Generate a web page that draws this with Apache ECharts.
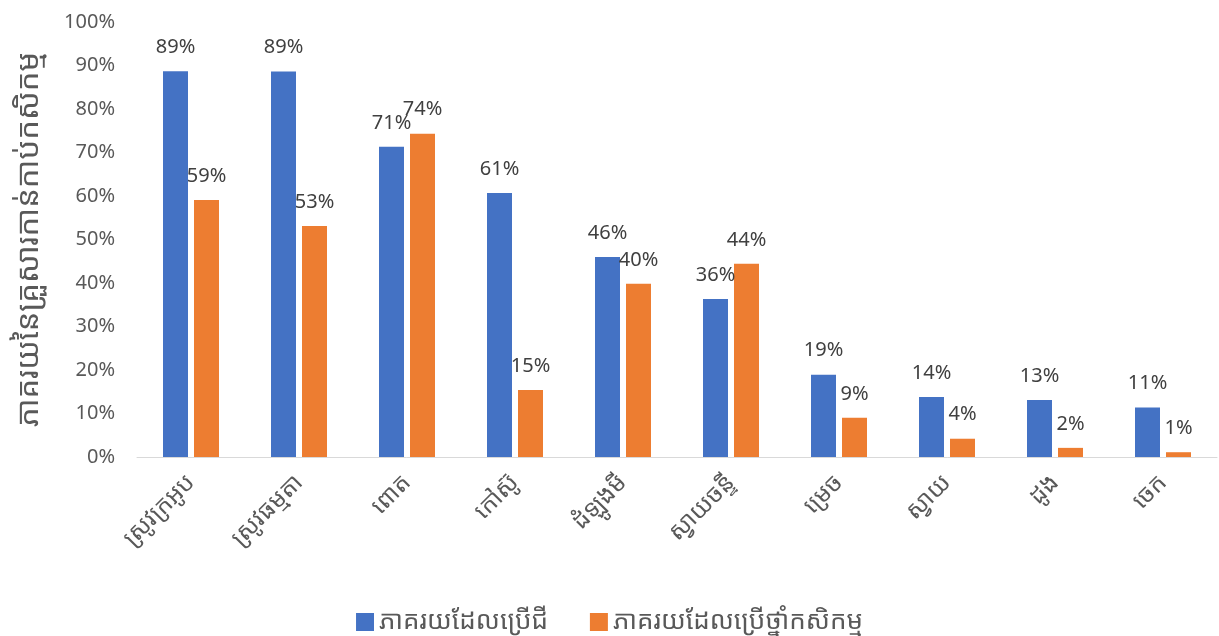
<!DOCTYPE html>
<html>
<head>
<meta charset="utf-8">
<script src="https://cdn.jsdelivr.net/npm/echarts@6/dist/echarts.min.js"></script>
<style>
  html, body { margin: 0; padding: 0; background: #fff; }
  #chart { width: 1219px; height: 636px; }
</style>
</head>
<body>
<div id="chart"></div>
<script>
// crops
const categories = ['ស្រូវក្រអូប', 'ស្រូវធម្មតា', 'ពោត', 'កៅស៊ូ', 'ដំឡូងមី', 'ស្វាយចន្ទី', 'ម្រេច', 'ស្វាយ', 'ដូង', 'ចេក'];
const fertilizer = [88.7, 88.6, 71.3, 60.7, 46.0, 36.3, 18.9, 13.8, 13.1, 11.4];
const pesticide = [59.1, 53.1, 74.3, 15.4, 39.8, 44.4, 9.0, 4.2, 2.1, 1.1];
const seriesNames = ['ភាគរយដែលប្រើជី', 'ភាគរយដែលប្រើថ្នាំកសិកម្ម'];
const yTitle = 'ភាគរយនៃគ្រួសារកាន់កាប់កសិកម្ម';

const font = '"Noto Sans Khmer", "Noto Sans", "DejaVu Sans", sans-serif';
const numFont = '"Noto Sans", "Open Sans", sans-serif';

let labelStyle = {
  show: true,
  position: 'top',
  distance: 14,
  fontSize: 20,
  color: '#404040',
  fontFamily: numFont,
  formatter: p => Math.round(p.value) + '%'
};

let option = {
  animation: false,
  legend: {
    top: 604,
    left: 'center',
    itemWidth: 18,
    itemHeight: 18,
    itemGap: 42,
    icon: 'rect',
    textStyle: { fontSize: 26, color: '#595959', fontFamily: font },
    data: seriesNames
  },
  grid: { left: 137, right: 2, top: 22, bottom: 179 },
  xAxis: {
    type: 'category',
    data: categories,
    axisLine: { lineStyle: { color: '#d9d9d9' } },
    axisTick: { show: false },
    axisLabel: {
      rotate: 45,
      interval: 0,
      fontSize: 24,
      color: '#595959',
      fontFamily: font,
      margin: 22
    }
  },
  yAxis: {
    type: 'value',
    min: 0,
    max: 100,
    interval: 10,
    name: yTitle,
    nameLocation: 'middle',
    nameGap: 92,
    nameTextStyle: { fontSize: 31, color: '#595959', fontFamily: font },
    splitLine: { show: false },
    axisLine: { show: false },
    axisTick: { show: false },
    axisLabel: {
      fontSize: 20,
      color: '#595959',
      fontFamily: numFont,
      margin: 22,
      formatter: '{value}%'
    }
  },
  series: [
    {
      name: seriesNames[0],
      type: 'bar',
      data: fertilizer,
      barWidth: 25,
      barGap: '24%',
      itemStyle: { color: '#4472C4' },
      label: labelStyle
    },
    {
      name: seriesNames[1],
      type: 'bar',
      data: pesticide,
      barWidth: 25,
      itemStyle: { color: '#ED7D31' },
      label: labelStyle
    }
  ]
};

let myChart = echarts.init(document.getElementById('chart'));
myChart.setOption(option);
</script>
</body>
</html>
